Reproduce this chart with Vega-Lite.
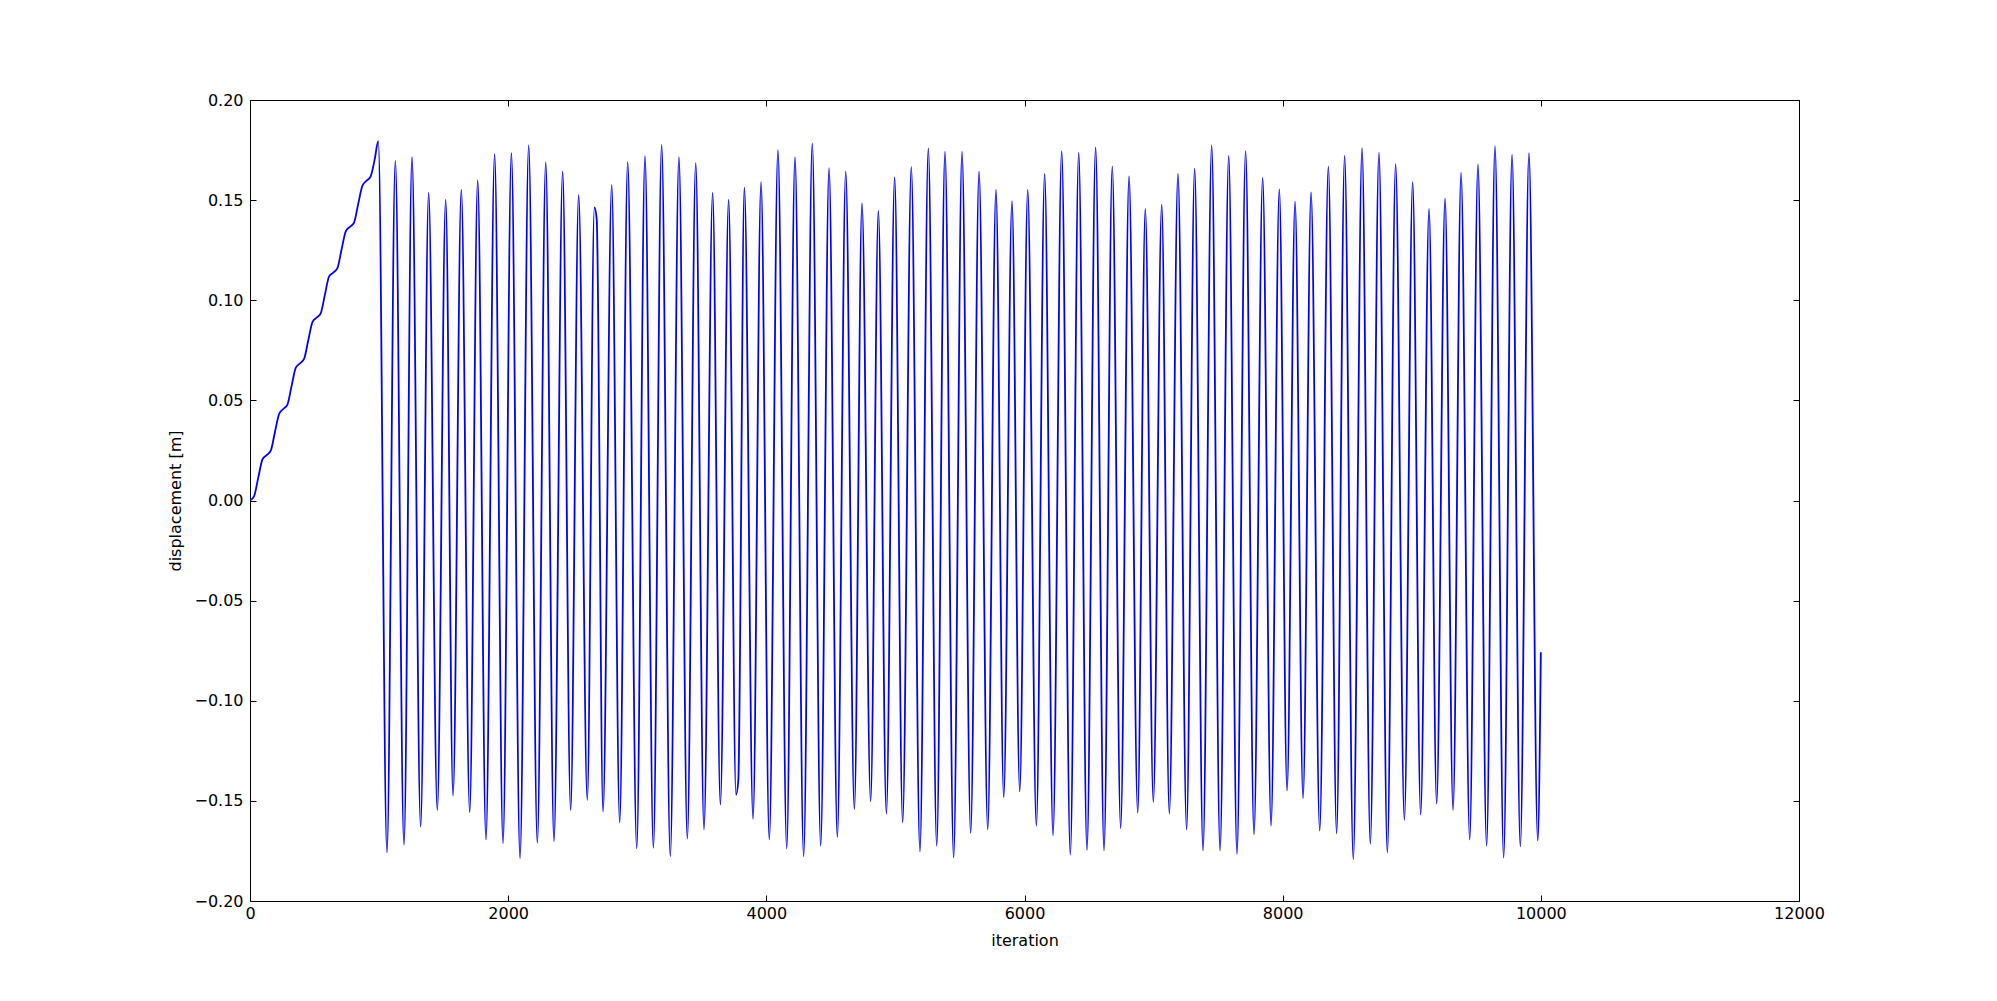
{
  "$schema": "https://vega.github.io/schema/vega-lite/v6.json",
  "width": 1549,
  "height": 801,
  "autosize": {"type": "none"},
  "padding": {"left": 250, "top": 100, "right": 198, "bottom": 100},
  "background": "white",
  "data": {"values": [
    {"iteration": 0, "displacement": 0.0},
    {"iteration": 32, "displacement": 0.0022},
    {"iteration": 64, "displacement": 0.0114},
    {"iteration": 97, "displacement": 0.0206},
    {"iteration": 129, "displacement": 0.0227},
    {"iteration": 161, "displacement": 0.0249},
    {"iteration": 193, "displacement": 0.0341},
    {"iteration": 226, "displacement": 0.0433},
    {"iteration": 258, "displacement": 0.0457},
    {"iteration": 290, "displacement": 0.0479},
    {"iteration": 322, "displacement": 0.0571},
    {"iteration": 355, "displacement": 0.0663},
    {"iteration": 387, "displacement": 0.0685},
    {"iteration": 419, "displacement": 0.0707},
    {"iteration": 451, "displacement": 0.0799},
    {"iteration": 484, "displacement": 0.0891},
    {"iteration": 516, "displacement": 0.0913},
    {"iteration": 548, "displacement": 0.0935},
    {"iteration": 580, "displacement": 0.1027},
    {"iteration": 613, "displacement": 0.1119},
    {"iteration": 645, "displacement": 0.1138},
    {"iteration": 677, "displacement": 0.116},
    {"iteration": 709, "displacement": 0.1252},
    {"iteration": 742, "displacement": 0.1344},
    {"iteration": 774, "displacement": 0.1366},
    {"iteration": 806, "displacement": 0.1388},
    {"iteration": 838, "displacement": 0.148},
    {"iteration": 871, "displacement": 0.1572},
    {"iteration": 903, "displacement": 0.1597},
    {"iteration": 935, "displacement": 0.1619},
    {"iteration": 965, "displacement": 0.17},
    {"iteration": 994, "displacement": 0.1794},
    {"iteration": 1061, "displacement": -0.1757},
    {"iteration": 1126, "displacement": 0.1696},
    {"iteration": 1193, "displacement": -0.1719},
    {"iteration": 1255, "displacement": 0.1714},
    {"iteration": 1322, "displacement": -0.1629},
    {"iteration": 1384, "displacement": 0.1536},
    {"iteration": 1451, "displacement": -0.1546},
    {"iteration": 1516, "displacement": 0.1502},
    {"iteration": 1573, "displacement": -0.1474},
    {"iteration": 1637, "displacement": 0.1551},
    {"iteration": 1702, "displacement": -0.1557},
    {"iteration": 1764, "displacement": 0.1598},
    {"iteration": 1828, "displacement": -0.1693},
    {"iteration": 1895, "displacement": 0.1729},
    {"iteration": 1960, "displacement": -0.1711},
    {"iteration": 2025, "displacement": 0.1734},
    {"iteration": 2092, "displacement": -0.1786},
    {"iteration": 2159, "displacement": 0.1773},
    {"iteration": 2226, "displacement": -0.1709},
    {"iteration": 2291, "displacement": 0.1688},
    {"iteration": 2355, "displacement": -0.1701},
    {"iteration": 2422, "displacement": 0.1642},
    {"iteration": 2484, "displacement": -0.1546},
    {"iteration": 2546, "displacement": 0.1526},
    {"iteration": 2613, "displacement": -0.1495},
    {"iteration": 2668, "displacement": 0.1464},
    {"iteration": 2686, "displacement": 0.1404},
    {"iteration": 2735, "displacement": -0.1554},
    {"iteration": 2802, "displacement": 0.1575},
    {"iteration": 2864, "displacement": -0.1608},
    {"iteration": 2926, "displacement": 0.169},
    {"iteration": 2996, "displacement": -0.1737},
    {"iteration": 3060, "displacement": 0.1719},
    {"iteration": 3125, "displacement": -0.1734},
    {"iteration": 3189, "displacement": 0.1776},
    {"iteration": 3256, "displacement": -0.1776},
    {"iteration": 3323, "displacement": 0.1714},
    {"iteration": 3388, "displacement": -0.1688},
    {"iteration": 3453, "displacement": 0.1685},
    {"iteration": 3517, "displacement": -0.1642},
    {"iteration": 3584, "displacement": 0.1536},
    {"iteration": 3644, "displacement": -0.1518},
    {"iteration": 3708, "displacement": 0.1502},
    {"iteration": 3765, "displacement": -0.1469},
    {"iteration": 3783, "displacement": -0.1397},
    {"iteration": 3830, "displacement": 0.1562},
    {"iteration": 3897, "displacement": -0.159},
    {"iteration": 3959, "displacement": 0.159},
    {"iteration": 4023, "displacement": -0.1693},
    {"iteration": 4090, "displacement": 0.175},
    {"iteration": 4158, "displacement": -0.1737},
    {"iteration": 4222, "displacement": 0.1714},
    {"iteration": 4289, "displacement": -0.1776},
    {"iteration": 4356, "displacement": 0.1783},
    {"iteration": 4421, "displacement": -0.1724},
    {"iteration": 4486, "displacement": 0.166},
    {"iteration": 4550, "displacement": -0.168},
    {"iteration": 4615, "displacement": 0.1642},
    {"iteration": 4682, "displacement": -0.1541},
    {"iteration": 4741, "displacement": 0.1484},
    {"iteration": 4808, "displacement": -0.1502},
    {"iteration": 4868, "displacement": 0.1446},
    {"iteration": 4930, "displacement": -0.1564},
    {"iteration": 4994, "displacement": 0.1613},
    {"iteration": 5056, "displacement": -0.1608},
    {"iteration": 5123, "displacement": 0.1665},
    {"iteration": 5190, "displacement": -0.1752},
    {"iteration": 5255, "displacement": 0.1758},
    {"iteration": 5320, "displacement": -0.1724},
    {"iteration": 5384, "displacement": 0.1742},
    {"iteration": 5451, "displacement": -0.1783},
    {"iteration": 5516, "displacement": 0.1742},
    {"iteration": 5583, "displacement": -0.166},
    {"iteration": 5648, "displacement": 0.1642},
    {"iteration": 5715, "displacement": -0.1642},
    {"iteration": 5779, "displacement": 0.1551},
    {"iteration": 5839, "displacement": -0.1482},
    {"iteration": 5903, "displacement": 0.1495},
    {"iteration": 5963, "displacement": -0.1453},
    {"iteration": 6025, "displacement": 0.1551},
    {"iteration": 6092, "displacement": -0.1624},
    {"iteration": 6156, "displacement": 0.1631},
    {"iteration": 6221, "displacement": -0.1672},
    {"iteration": 6288, "displacement": 0.1745},
    {"iteration": 6355, "displacement": -0.1768},
    {"iteration": 6420, "displacement": 0.1737},
    {"iteration": 6484, "displacement": -0.1745},
    {"iteration": 6551, "displacement": 0.1763},
    {"iteration": 6616, "displacement": -0.1747},
    {"iteration": 6680, "displacement": 0.1667},
    {"iteration": 6745, "displacement": -0.1636},
    {"iteration": 6810, "displacement": 0.1618},
    {"iteration": 6877, "displacement": -0.1559},
    {"iteration": 6936, "displacement": 0.1456},
    {"iteration": 6998, "displacement": -0.1505},
    {"iteration": 7063, "displacement": 0.1477},
    {"iteration": 7122, "displacement": -0.1564},
    {"iteration": 7189, "displacement": 0.1631},
    {"iteration": 7256, "displacement": -0.1642},
    {"iteration": 7318, "displacement": 0.1657},
    {"iteration": 7383, "displacement": -0.1747},
    {"iteration": 7450, "displacement": 0.1773},
    {"iteration": 7515, "displacement": -0.1747},
    {"iteration": 7582, "displacement": 0.1721},
    {"iteration": 7646, "displacement": -0.1765},
    {"iteration": 7713, "displacement": 0.1745},
    {"iteration": 7778, "displacement": -0.1667},
    {"iteration": 7845, "displacement": 0.1611},
    {"iteration": 7910, "displacement": -0.1624},
    {"iteration": 7974, "displacement": 0.1554},
    {"iteration": 8034, "displacement": -0.1448},
    {"iteration": 8096, "displacement": 0.1492},
    {"iteration": 8158, "displacement": -0.1487},
    {"iteration": 8220, "displacement": 0.1538},
    {"iteration": 8287, "displacement": -0.1649},
    {"iteration": 8354, "displacement": 0.1667},
    {"iteration": 8418, "displacement": -0.1662},
    {"iteration": 8480, "displacement": 0.1721},
    {"iteration": 8547, "displacement": -0.1791},
    {"iteration": 8615, "displacement": 0.176},
    {"iteration": 8679, "displacement": -0.1714},
    {"iteration": 8746, "displacement": 0.1737},
    {"iteration": 8811, "displacement": -0.1757},
    {"iteration": 8875, "displacement": 0.168},
    {"iteration": 8943, "displacement": -0.1595},
    {"iteration": 9007, "displacement": 0.159},
    {"iteration": 9069, "displacement": -0.1569},
    {"iteration": 9134, "displacement": 0.1456},
    {"iteration": 9193, "displacement": -0.1513},
    {"iteration": 9258, "displacement": 0.1508},
    {"iteration": 9320, "displacement": -0.1546},
    {"iteration": 9382, "displacement": 0.1636},
    {"iteration": 9449, "displacement": -0.1693},
    {"iteration": 9513, "displacement": 0.1678},
    {"iteration": 9580, "displacement": -0.1724},
    {"iteration": 9645, "displacement": 0.177},
    {"iteration": 9712, "displacement": -0.1783},
    {"iteration": 9777, "displacement": 0.1727},
    {"iteration": 9841, "displacement": -0.1727},
    {"iteration": 9908, "displacement": 0.1734},
    {"iteration": 9976, "displacement": -0.1698},
    {"iteration": 10000, "displacement": -0.0758}
  ]},
  "layer": [
    {
      "mark": {"type": "line", "interpolate": "monotone", "color": "#0000ff", "strokeWidth": 1.8, "clip": true},
      "encoding": {
        "x": {"field": "iteration", "type": "quantitative",
              "scale": {"domain": [0, 12000], "nice": false, "zero": false},
              "axis": {"orient": "bottom", "values": [0, 2000, 4000, 6000, 8000, 10000, 12000], "format": "d", "title": "iteration", "labelPadding": 10, "titlePadding": 11}},
        "y": {"field": "displacement", "type": "quantitative",
              "scale": {"domain": [-0.2, 0.2], "nice": false, "zero": false},
              "axis": {"orient": "left", "values": [-0.2, -0.15, -0.1, -0.05, 0, 0.05, 0.1, 0.15, 0.2], "format": ".2f", "title": "displacement [m]", "labelPadding": 13, "titlePadding": 10}}
      }
    },
    {
      "mark": {"type": "line", "strokeOpacity": 0},
      "encoding": {
        "x": {"field": "iteration", "type": "quantitative",
              "axis": {"orient": "top", "values": [0, 2000, 4000, 6000, 8000, 10000, 12000], "labels": false, "title": null}},
        "y": {"field": "displacement", "type": "quantitative",
              "axis": {"orient": "right", "values": [-0.2, -0.15, -0.1, -0.05, 0, 0.05, 0.1, 0.15, 0.2], "labels": false, "title": null}}
      }
    }
  ],
  "resolve": {"axis": {"x": "independent", "y": "independent"}},
  "config": {
    "view": {"stroke": "black", "strokeWidth": 1},
    "axis": {
      "domain": false,
      "grid": false,
      "ticks": true,
      "tickSize": -6,
      "tickColor": "black",
      "tickWidth": 1,
      "labelFlush": false,
      "labelFont": "DejaVu Sans",
      "labelFontSize": 16,
      "labelColor": "black",
      "titleFont": "DejaVu Sans",
      "titleFontSize": 16,
      "titleFontWeight": "normal",
      "titleColor": "black"
    }
  }
}
